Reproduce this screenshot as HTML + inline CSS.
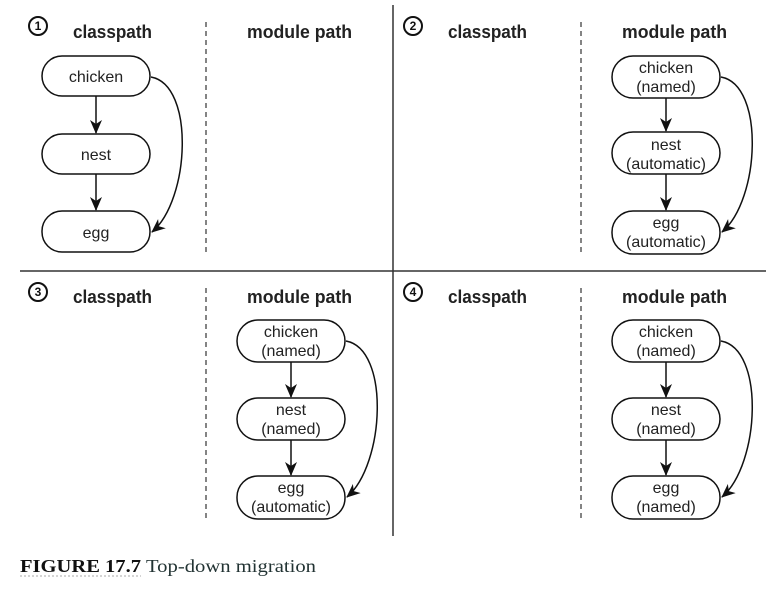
<!DOCTYPE html>
<html><head><style>
body{margin:0;background:#fff;}
svg text{font-family:"Liberation Sans",sans-serif;}
</style></head><body>
<svg width="779" height="591" viewBox="0 0 779 591" xmlns="http://www.w3.org/2000/svg">
<defs>
<marker id="a" markerWidth="14" markerHeight="12" refX="13" refY="6" orient="auto" markerUnits="userSpaceOnUse">
<path d="M0,0 L14,6 L0,12 L4,6 z" fill="#111"/>
</marker>
<g id="hdr">
<text x="73" y="38" font-size="18" font-weight="bold" fill="#222" textLength="79" lengthAdjust="spacingAndGlyphs">classpath</text>
<text x="247" y="38" font-size="18" font-weight="bold" fill="#222" textLength="105" lengthAdjust="spacingAndGlyphs">module path</text>
</g>
</defs>
<line x1="393" y1="5" x2="393" y2="536" stroke="#333" stroke-width="1.5"/>
<line x1="20" y1="271" x2="766" y2="271" stroke="#333" stroke-width="1.5"/>
<g stroke="#333" stroke-width="1.2" stroke-dasharray="5,4">
<line x1="206" y1="22" x2="206" y2="256"/>
<line x1="581" y1="22" x2="581" y2="256"/>
<line x1="206" y1="288" x2="206" y2="522"/>
<line x1="581" y1="288" x2="581" y2="522"/>
</g>
<g fill="none" stroke="#111" stroke-width="2">
<circle cx="38" cy="26" r="9"/><circle cx="413" cy="26" r="9"/>
<circle cx="38" cy="292" r="9"/><circle cx="413" cy="292" r="9"/>
</g>
<g font-size="12" font-weight="bold" text-anchor="middle" fill="#111">
<text x="38" y="30">1</text><text x="413" y="30">2</text>
<text x="38" y="296">3</text><text x="413" y="296">4</text>
</g>
<use href="#hdr"/>
<use href="#hdr" transform="translate(375,0)"/>
<use href="#hdr" transform="translate(0,265)"/>
<use href="#hdr" transform="translate(375,265)"/>

<g fill="#fff" stroke="#111" stroke-width="1.5">
<rect x="42" y="56" width="108" height="40" rx="20"/>
<rect x="42" y="134" width="108" height="40" rx="20"/>
<rect x="42" y="211" width="108" height="41" rx="20"/>
</g>
<g font-size="16" text-anchor="middle" fill="#222">
<text x="96" y="82">chicken</text><text x="96" y="160">nest</text><text x="96" y="238">egg</text>
</g>
<g stroke="#111" stroke-width="1.5" fill="none" marker-end="url(#a)">
<line x1="96" y1="96" x2="96" y2="133"/>
<line x1="96" y1="174" x2="96" y2="210"/>
<path d="M151,77 C195,85 190,200 152,232"/>
</g>

<g transform="translate(570,0)">
<g fill="#fff" stroke="#111" stroke-width="1.5">
<rect x="42" y="56" width="108" height="42" rx="21"/>
<rect x="42" y="132" width="108" height="42" rx="21"/>
<rect x="42" y="211" width="108" height="43" rx="21"/>
</g>
<g font-size="16" text-anchor="middle" fill="#222">
<text x="96" y="73">chicken</text><text x="96" y="92">(named)</text>
<text x="96" y="150">nest</text><text x="96" y="169">(automatic)</text>
<text x="96" y="228">egg</text><text x="96" y="247">(automatic)</text>
</g>
<g stroke="#111" stroke-width="1.5" fill="none" marker-end="url(#a)">
<line x1="96" y1="98" x2="96" y2="131"/>
<line x1="96" y1="174" x2="96" y2="210"/>
<path d="M151,77 C195,85 190,200 152,232"/>
</g>
</g>

<g transform="translate(195,264)">
<g fill="#fff" stroke="#111" stroke-width="1.5">
<rect x="42" y="56" width="108" height="42" rx="21"/>
<rect x="42" y="134" width="108" height="42" rx="21"/>
<rect x="42" y="212" width="108" height="43" rx="21"/>
</g>
<g font-size="16" text-anchor="middle" fill="#222">
<text x="96" y="73">chicken</text><text x="96" y="92">(named)</text>
<text x="96" y="151">nest</text><text x="96" y="170">(named)</text>
<text x="96" y="229">egg</text><text x="96" y="248">(automatic)</text>
</g>
<g stroke="#111" stroke-width="1.5" fill="none" marker-end="url(#a)">
<line x1="96" y1="98" x2="96" y2="133"/>
<line x1="96" y1="176" x2="96" y2="211"/>
<path d="M151,77 C195,85 190,200 152,233"/>
</g>
</g>

<g transform="translate(570,264)">
<g fill="#fff" stroke="#111" stroke-width="1.5">
<rect x="42" y="56" width="108" height="42" rx="21"/>
<rect x="42" y="134" width="108" height="42" rx="21"/>
<rect x="42" y="212" width="108" height="43" rx="21"/>
</g>
<g font-size="16" text-anchor="middle" fill="#222">
<text x="96" y="73">chicken</text><text x="96" y="92">(named)</text>
<text x="96" y="151">nest</text><text x="96" y="170">(named)</text>
<text x="96" y="229">egg</text><text x="96" y="248">(named)</text>
</g>
<g stroke="#111" stroke-width="1.5" fill="none" marker-end="url(#a)">
<line x1="96" y1="98" x2="96" y2="133"/>
<line x1="96" y1="176" x2="96" y2="211"/>
<path d="M151,77 C195,85 190,200 152,233"/>
</g>
</g>

<text x="20" y="572" font-size="18" font-weight="bold" fill="#111" textLength="121" lengthAdjust="spacingAndGlyphs" style="font-family:'Liberation Serif',serif">FIGURE 17.7</text>
<line x1="20" y1="576" x2="141" y2="576" stroke="#aaa" stroke-width="1" stroke-dasharray="2,2"/>
<text x="146" y="572" font-size="18" fill="#233" textLength="170" lengthAdjust="spacingAndGlyphs" style="font-family:'Liberation Serif',serif">Top-down migration</text>
</svg>
</body></html>
